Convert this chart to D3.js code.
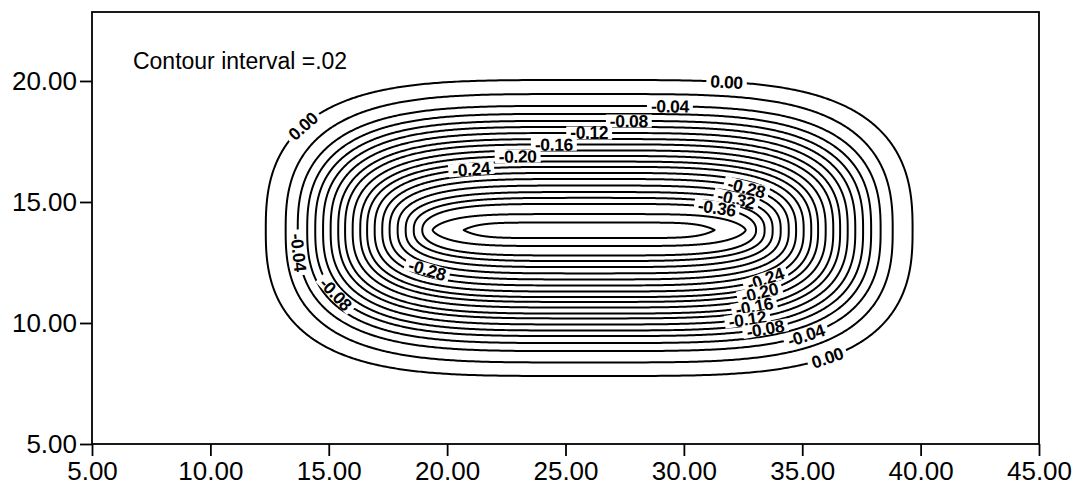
<!DOCTYPE html>
<html>
<head>
<meta charset="utf-8">
<script src="https://cdn.jsdelivr.net/npm/d3@7"></script>
<style>
  html, body { margin: 0; padding: 0; background: #fff; }
  svg { display: block; font-family: Arial, "Liberation Sans", sans-serif; }
</style>
</head>
<body>
<svg id="chart" width="1075" height="488"></svg>
<script>
// Contour levels, outermost to innermost
const levels = [0.00, -0.02, -0.04, -0.06, -0.08, -0.10, -0.12, -0.14, -0.16, -0.18, -0.20,
                -0.22, -0.24, -0.26, -0.28, -0.30, -0.32, -0.34, -0.36, -0.38, -0.40];

// Where each contour crosses the trough axis (x) and the centre line (y)
const xLeft   = [12.34, 13.18, 13.69, 14.09, 14.43, 14.76, 15.08, 15.40, 15.69, 16.01, 16.33,
                 16.62, 16.94, 17.26, 17.57, 17.91, 18.25, 18.59, 18.95, 19.39, 20.70];
const xRight  = [39.66, 38.82, 38.31, 37.91, 37.57, 37.24, 36.92, 36.60, 36.31, 35.99, 35.67,
                 35.38, 35.06, 34.74, 34.43, 34.09, 33.75, 33.41, 33.05, 32.61, 31.30];
const yTop    = [20.04, 19.46, 18.97, 18.64, 18.35, 18.10, 17.85, 17.60, 17.38, 17.13, 16.90,
                 16.67, 16.45, 16.20, 15.95, 15.68, 15.41, 15.17, 14.92, 14.50, 14.15];
const yBottom = [7.81, 8.37, 8.84, 9.17, 9.46, 9.69, 9.94, 10.19, 10.39, 10.64, 10.87,
                 11.07, 11.30, 11.55, 11.80, 12.05, 12.31, 12.56, 12.79, 13.18, 13.51];
const troughAxisY = 13.84;

// Squareness of each closed contour: along the sides and at the ends
const sideExponent = [4, 4, 4, 4, 4, 4, 4, 4, 4, 4, 4,
                      4, 4, 4, 4, 4, 4, 4, 4.5, 5.5, 8];
const endExponent  = [2.6, 2.6, 2.6, 2.6, 2.6, 2.6, 2.6, 2.6, 2.6, 2.6, 2.6,
                      2.6, 2.6, 2.6, 2.6, 2.6, 2.6, 2.5, 2.2, 1.5, 1.05];

// Axis ticks
const xTicks = [5, 10, 15, 20, 25, 30, 35, 40, 45];
const yTicks = [5, 10, 15, 20];

// Which contours carry a value label, and roughly where along them
const labelLevels = [0.00, 0.00, 0.00, -0.04, -0.08, -0.12, -0.16, -0.20, -0.24,
                     -0.28, -0.32, -0.36, -0.28, -0.04, -0.08,
                     -0.24, -0.20, -0.16, -0.12, -0.08, -0.04];
const labelNearX  = [31.82, 14.00, 36.05, 29.45, 27.80, 26.20, 24.60, 22.95, 21.01,
                     32.67, 32.24, 31.40, 19.19, 13.87, 15.56,
                     33.34, 33.13, 32.92, 32.67, 33.43, 35.16];
const labelNearY  = [20.04, 18.06, 8.55, 18.97, 18.35, 17.89, 17.40, 16.90, 16.45,
                     15.70, 15.21, 14.75, 12.27, 12.93, 11.45,
                     12.07, 11.45, 10.87, 10.29, 9.79, 9.42];

const noteText = "Contour interval =.02";

// ---------------------------------------------------------------
const svg = d3.select("#chart");
const plot = { left: 92, right: 1039, top: 12, bottom: 444 };

const x = d3.scaleLinear().domain([5, 45]).range([plot.left, plot.right]);
const y = d3.scaleLinear().domain([5, 22.85]).range([plot.bottom, plot.top]);

// Closed contour outline for level i, sampled as pixel points
function contourPoints(i) {
  const cx = (xLeft[i] + xRight[i]) / 2;
  const hw = (xRight[i] - xLeft[i]) / 2;
  const up = yTop[i] - troughAxisY;
  const down = troughAxisY - yBottom[i];
  const p = sideExponent[i], q = endExponent[i];
  const n = 900;
  return d3.range(n).map(k => {
    const t = (k / n) * 2 * Math.PI;
    const c = Math.cos(t), s = Math.sin(t);
    const dx = hw * Math.sign(c) * Math.pow(Math.abs(c), 2 / p);
    const dy = (s >= 0 ? up : down) * Math.sign(s) * Math.pow(Math.abs(s), 2 / q);
    return [x(cx + dx), y(troughAxisY + dy)];
  });
}

const outlines = levels.map((_, i) => contourPoints(i));
const line = d3.line().curve(d3.curveLinearClosed);

svg.append("g")
  .attr("fill", "none")
  .attr("stroke", "#000")
  .attr("stroke-width", 2)
  .attr("stroke-linejoin", "round")
  .selectAll("path")
  .data(outlines)
  .join("path")
  .attr("d", d => line(d));

// Value labels, set along the contour they belong to
const labelLayer = svg.append("g");
labelLevels.forEach((lv, j) => {
  const i = levels.indexOf(lv);
  const pts = outlines[i];
  const ax = x(labelNearX[j]), ay = y(labelNearY[j]);
  let best = 0, bestD = Infinity;
  pts.forEach((pt, k) => {
    const d = (pt[0] - ax) ** 2 + (pt[1] - ay) ** 2;
    if (d < bestD) { bestD = d; best = k; }
  });
  const n = pts.length;
  const a = pts[(best - 6 + n) % n], b = pts[(best + 6) % n];
  let ang = Math.atan2(b[1] - a[1], b[0] - a[0]) * 180 / Math.PI;
  if (ang > 90) ang -= 180;
  if (ang <= -90) ang += 180;
  const g = labelLayer.append("g")
    .attr("transform", `translate(${pts[best][0]},${pts[best][1]}) rotate(${ang})`);
  const bg = g.append("rect").attr("fill", "#fff");
  const txt = g.append("text")
    .attr("text-anchor", "middle")
    .attr("dy", "0.36em")
    .attr("font-size", 17.5)
    .attr("font-weight", "bold")
    .attr("letter-spacing", -0.4)
    .text(lv.toFixed(2));
  const w = txt.node().getComputedTextLength();
  bg.attr("x", -w / 2 - 4).attr("y", -6.5).attr("width", w + 8).attr("height", 13);
});

// Axes
const xAxis = d3.axisBottom(x)
  .tickValues(xTicks)
  .tickFormat(d3.format(".2f"))
  .tickSize(12)
  .tickSizeOuter(0)
  .tickPadding(6);
const yAxis = d3.axisLeft(y)
  .tickValues(yTicks)
  .tickFormat(d3.format(".2f"))
  .tickSize(12)
  .tickSizeOuter(0)
  .tickPadding(3);

const gx = svg.append("g").attr("transform", `translate(0,${plot.bottom})`).call(xAxis);
const gy = svg.append("g").attr("transform", `translate(${plot.left},0)`).call(yAxis);
[gx, gy].forEach(g => {
  g.select(".domain").remove();
  g.selectAll(".tick line").attr("stroke", "#000").attr("stroke-width", 1.8);
  g.selectAll(".tick text")
    .attr("fill", "#000")
    .attr("font-size", 26)
    .attr("font-family", "Arial, 'Liberation Sans', sans-serif");
});

// Plot frame
svg.append("rect")
  .attr("x", plot.left).attr("y", plot.top)
  .attr("width", plot.right - plot.left).attr("height", plot.bottom - plot.top)
  .attr("fill", "none").attr("stroke", "#000").attr("stroke-width", 1.8);

// Note in the upper left corner
svg.append("text")
  .attr("x", x(6.73)).attr("y", y(20.5))
  .attr("font-size", 23)
  .attr("fill", "#000")
  .text(noteText);
</script>
</body>
</html>
